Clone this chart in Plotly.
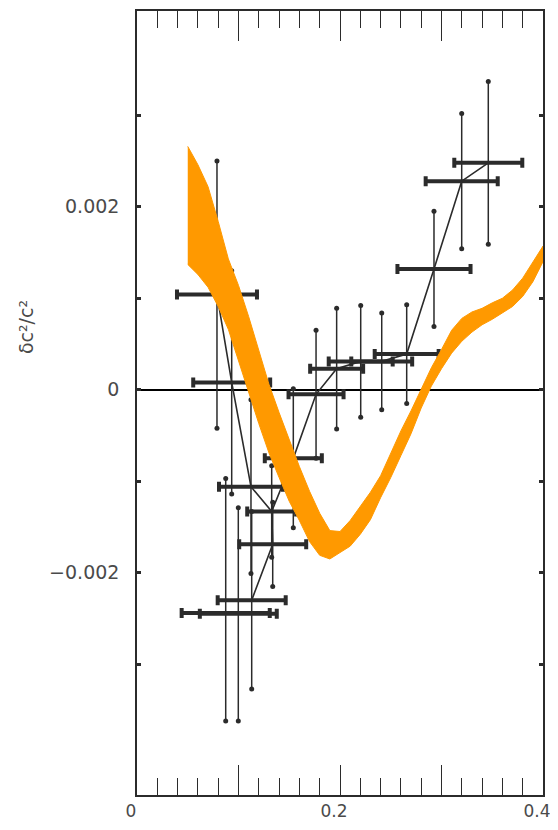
import plotly.graph_objects as go

# ---- model band (orange) ----
band_x = [0.05, 0.06, 0.07, 0.08, 0.09, 0.10, 0.11, 0.12, 0.13, 0.14, 0.15,
          0.16, 0.17, 0.18, 0.19, 0.20, 0.21, 0.22, 0.23, 0.24, 0.25, 0.26,
          0.27, 0.28, 0.29, 0.30, 0.31, 0.32, 0.33, 0.34, 0.35, 0.36, 0.37,
          0.38, 0.39, 0.40]
band_upper = [0.00266, 0.00246, 0.00222, 0.00184, 0.00143, 0.00114, 0.00080,
              0.00043, 0.00006, -0.00025, -0.00055, -0.00084, -0.00111,
              -0.00135, -0.00154, -0.00155, -0.00143, -0.00128, -0.00112,
              -0.00094, -0.00070, -0.00045, -0.00023, 0.00000, 0.00024,
              0.00044, 0.00065, 0.00078, 0.00085, 0.00089, 0.00095, 0.00100,
              0.00109, 0.00122, 0.00139, 0.00157]
band_lower = [0.00137, 0.00126, 0.00112, 0.00091, 0.00066, 0.00033, -0.00003,
              -0.00037, -0.00069, -0.00096, -0.00122, -0.00143, -0.00166,
              -0.00181, -0.00185, -0.00178, -0.00171, -0.00158, -0.00142,
              -0.00118, -0.00096, -0.00072, -0.00048, -0.00020, 0.00004,
              0.00023, 0.00040, 0.00053, 0.00063, 0.00071, 0.00077, 0.00084,
              0.00091, 0.00102, 0.00118, 0.00140]

# ---- inversion points ----
pt_x = [0.0788, 0.0933, 0.1123, 0.1327, 0.1540, 0.1764, 0.1967, 0.2204,
        0.2411, 0.2657, 0.2926, 0.3199, 0.3461, 0.1337, 0.1130, 0.0874, 0.0998]
pt_y = [0.00104, 0.00008, -0.00106, -0.00133, -0.00075, -0.00005, 0.00023,
        0.00031, 0.00031, 0.00039, 0.00132, 0.00228, 0.00248, -0.00169,
        -0.00230, -0.00244, -0.00245]
pt_xerr = [0.0394, 0.0379, 0.0315, 0.0241, 0.0281, 0.0271, 0.0261, 0.0315,
           0.0300, 0.0315, 0.0360, 0.0355, 0.0335, 0.0330, 0.0335, 0.0434, 0.0379]
pt_yerr_plus = [0.00146, 0.00122, 0.00095, 0.00050, 0.00076, 0.00070, 0.00066,
                0.00061, 0.00053, 0.00054, 0.00063, 0.00074, 0.00089, 0.00046,
                0.00097, 0.00147, 0.00116]
pt_yerr_minus = [0.00146, 0.00122, 0.00095, 0.00050, 0.00076, 0.00070, 0.00066,
                 0.00061, 0.00053, 0.00054, 0.00063, 0.00074, 0.00089, 0.00046,
                 0.00097, 0.00118, 0.00117]

# connection order of the points
path_main = [0, 1, 2, 3, 4, 5, 6, 7, 8, 9, 10, 11, 12]
path_low = [3, 13, 14]

# axis ticks
x_tickvals = [0, 0.1, 0.2, 0.3, 0.4]
x_ticktext = ["0", "", "0.2", "", "0.4"]
y_tickvals = [-0.003, -0.002, -0.001, 0, 0.001, 0.002, 0.003]
y_ticktext = ["", "\u22120.002", "", "0", "", "0.002", ""]

INK = "#2b2b2b"
ORANGE = "#ff9900"
TXT = "#4a4a4a"

fig = go.Figure()

# error bars
fig.add_trace(go.Scatter(
    x=pt_x, y=pt_y, mode="markers",
    marker=dict(size=1, color=INK),
    error_x=dict(type="data", array=pt_xerr, color=INK, thickness=4, width=5),
    error_y=dict(type="data", symmetric=False, array=pt_yerr_plus,
                 arrayminus=pt_yerr_minus, color=INK, thickness=1.5, width=0),
    showlegend=False, hoverinfo="skip"))

# dots at ends of vertical error bars
ends_x = pt_x + pt_x
ends_y = [y + e for y, e in zip(pt_y, pt_yerr_plus)] + \
         [y - e for y, e in zip(pt_y, pt_yerr_minus)]
fig.add_trace(go.Scatter(
    x=ends_x, y=ends_y, mode="markers",
    marker=dict(size=5, color=INK), showlegend=False, hoverinfo="skip"))

# connecting lines
for path in (path_main, path_low):
    fig.add_trace(go.Scatter(
        x=[pt_x[i] for i in path], y=[pt_y[i] for i in path], mode="lines",
        line=dict(color=INK, width=1.6), showlegend=False, hoverinfo="skip"))

# orange model band (on top)
fig.add_trace(go.Scatter(
    x=band_x + band_x[::-1], y=band_upper + band_lower[::-1],
    mode="lines", fill="toself", fillcolor=ORANGE,
    line=dict(color=ORANGE, width=1), showlegend=False, hoverinfo="skip"))

# page adds an 8px body margin; keep the page within the 558x830 window
fig.update_layout(
    width=550, height=814,
    margin=dict(l=129, r=15, t=1, b=18),
    paper_bgcolor="white", plot_bgcolor="white",
    font=dict(family="DejaVu Sans", color=TXT),
)

fig.update_xaxes(
    range=[0, 0.4], tickmode="array", tickvals=x_tickvals, ticktext=x_ticktext,
    ticks="inside", ticklen=30, tickwidth=1.3, tickcolor=INK,
    minor=dict(dtick=0.02, ticks="inside", ticklen=17, tickwidth=1.2, tickcolor=INK),
    showline=True, linecolor=INK, linewidth=2, mirror="ticks",
    showgrid=False, zeroline=False, ticklabeloverflow="allow",
    ticklabelshift=-6,
    tickfont=dict(size=17, color=TXT),
)

fig.update_yaxes(
    range=[-0.00443, 0.00414], tickmode="array", tickvals=y_tickvals,
    ticktext=y_ticktext,
    ticks="inside", ticklen=4, tickwidth=3, tickcolor=INK,
    showline=True, linecolor=INK, linewidth=1.5, mirror="ticks",
    showgrid=False, zeroline=True, zerolinecolor="black", zerolinewidth=2,
    tickfont=dict(size=19, color=TXT), ticklabelstandoff=12,
)

fig.add_annotation(
    text="\u03b4c\u00b2/c\u00b2", xref="paper", yref="paper",
    x=-0.273, y=0.597, xanchor="center", yanchor="middle",
    textangle=-90, showarrow=False, font=dict(size=19, color=TXT))

fig.write_html("out.html")
